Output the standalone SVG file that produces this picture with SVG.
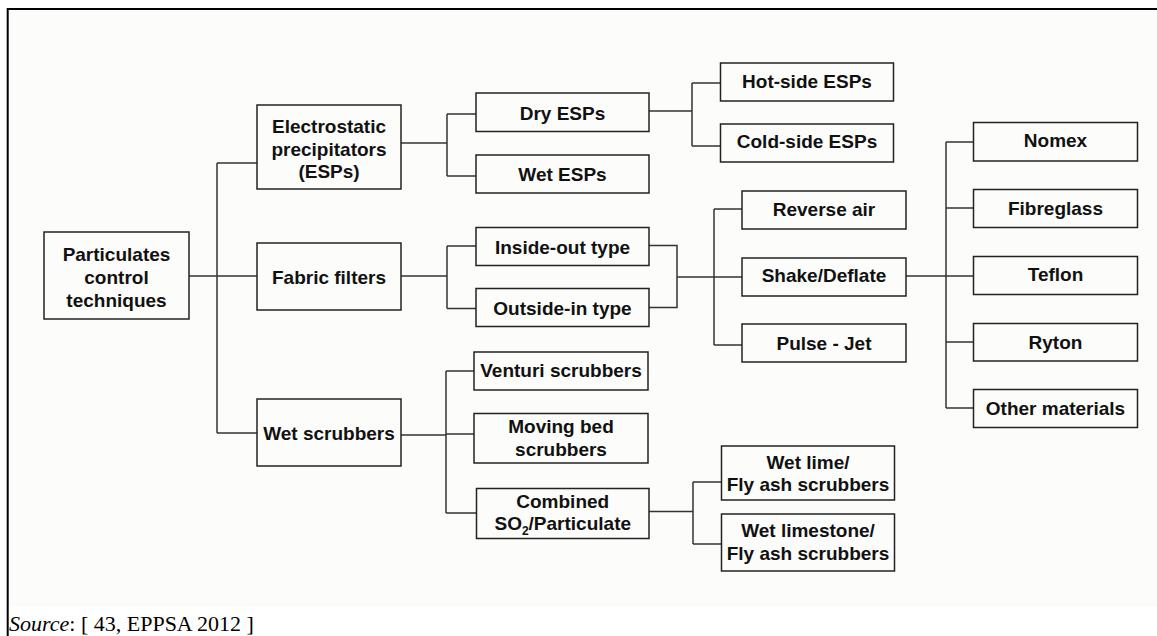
<svg xmlns="http://www.w3.org/2000/svg" width="1157" height="636" viewBox="0 0 1157 636">
<style>
.box{fill:none;stroke:#222;stroke-width:1.5}
.t{font-family:"Liberation Sans",Arial,sans-serif;font-weight:bold;font-size:19px;fill:#111;text-anchor:middle}
.c{fill:none;stroke:#333;stroke-width:1.5}
.src{font-family:"Liberation Serif","Times New Roman",serif;font-size:22px;fill:#000}
</style>
<rect x="0" y="0" width="1157" height="636" fill="#ffffff"/>
<rect x="8" y="9" width="1149" height="598" fill="#fcfcfa"/>
<g id="frame">
<line x1="7.7" y1="9" x2="1157" y2="9" stroke="#000" stroke-width="2"/>
<line x1="7.7" y1="8" x2="7.7" y2="636" stroke="#000" stroke-width="2"/>
</g>
<g id="connectors">
<path class="c" d="M189,276 H257 M217,163 V433 M217,163 H257 M217,433 H257"/>
<path class="c" d="M401,143 H447 M447,114 V176 M447,114 H476 M447,176 H476"/>
<path class="c" d="M649,111 H692 M692,83 V146 M692,83 H720.5 M692,146 H720.5"/>
<path class="c" d="M401,276 H447 M447,246 V308.5 M447,246 H476 M447,308.5 H476"/>
<path class="c" d="M649,245.5 H677 V307.5 H649 M677,277 H742 M714,209 V345 M714,209 H742 M714,345 H742"/>
<path class="c" d="M906,276 H973.5 M946,142 V408 M946,142 H973.5 M946,208 H973.5 M946,342 H973.5 M946,408 H973.5"/>
<path class="c" d="M401,435 H446 M446,371 V513 M446,371 H474 M446,434 H474 M446,513 H476.5"/>
<path class="c" d="M649,511.5 H693 M693,482 V544 M693,482 H721.5 M693,544 H721.5"/>
</g>
<g id="root"><rect class="box" x="44" y="232" width="145" height="87"/><text class="t" x="116.5" y="260.5">Particulates</text><text class="t" x="116.5" y="283.5">control</text><text class="t" x="116.5" y="306.5">techniques</text></g>
<g id="esp"><rect class="box" x="257" y="105" width="144" height="84"/><text class="t" x="329" y="133">Electrostatic</text><text class="t" x="329" y="155.5">precipitators</text><text class="t" x="329" y="178">(ESPs)</text></g>
<g id="fabric"><rect class="box" x="257" y="243" width="144" height="67"/><text class="t" x="329" y="283.5">Fabric filters</text></g>
<g id="wetscrub"><rect class="box" x="257" y="399" width="144" height="67"/><text class="t" x="329" y="440">Wet scrubbers</text></g>
<g id="dryesp"><rect class="box" x="476" y="93" width="173" height="38.5"/><text class="t" x="562.5" y="119.5">Dry ESPs</text></g>
<g id="wetesp"><rect class="box" x="476" y="155" width="173" height="38"/><text class="t" x="562.5" y="181">Wet ESPs</text></g>
<g id="insideout"><rect class="box" x="476" y="227.5" width="173" height="38"/><text class="t" x="562.5" y="253.5">Inside-out type</text></g>
<g id="outsidein"><rect class="box" x="476" y="288.5" width="173" height="38"/><text class="t" x="562.5" y="315">Outside-in type</text></g>
<g id="hotside"><rect class="box" x="720.5" y="63" width="173" height="38"/><text class="t" x="807" y="88">Hot-side ESPs</text></g>
<g id="coldside"><rect class="box" x="720.5" y="124" width="173" height="38"/><text class="t" x="807" y="147.5">Cold-side ESPs</text></g>
<g id="reverse"><rect class="box" x="742" y="191" width="164" height="38"/><text class="t" x="824" y="216">Reverse air</text></g>
<g id="shake"><rect class="box" x="742" y="258" width="164" height="38"/><text class="t" x="824" y="282">Shake/Deflate</text></g>
<g id="pulse"><rect class="box" x="742" y="324" width="164" height="38"/><text class="t" x="824" y="350">Pulse - Jet</text></g>
<g id="nomex"><rect class="box" x="973.5" y="122.5" width="164" height="38.5"/><text class="t" x="1055.5" y="147">Nomex</text></g>
<g id="fibreglass"><rect class="box" x="973.5" y="189.5" width="164" height="38"/><text class="t" x="1055.5" y="215">Fibreglass</text></g>
<g id="teflon"><rect class="box" x="973.5" y="256.5" width="164" height="38"/><text class="t" x="1055.5" y="281">Teflon</text></g>
<g id="ryton"><rect class="box" x="973.5" y="323.5" width="164" height="37.5"/><text class="t" x="1055.5" y="349">Ryton</text></g>
<g id="other"><rect class="box" x="973.5" y="389.5" width="164" height="38"/><text class="t" x="1055.5" y="415">Other materials</text></g>
<g id="venturi"><rect class="box" x="474" y="352" width="174" height="38"/><text class="t" x="561" y="377">Venturi scrubbers</text></g>
<g id="movingbed"><rect class="box" x="474" y="413.5" width="174" height="49.5"/><text class="t" x="561" y="433">Moving bed</text><text class="t" x="561" y="455.5">scrubbers</text></g>
<g id="combined"><rect class="box" x="476.5" y="488.5" width="172.5" height="50"/><text class="t" x="562.75" y="507.5">Combined</text><text class="t" x="562.75" y="530">SO<tspan font-size="12" dy="5">2</tspan><tspan dy="-5">/Particulate</tspan></text></g>
<g id="wetlime"><rect class="box" x="721.5" y="446" width="173" height="54"/><text class="t" x="808" y="468.5">Wet lime/</text><text class="t" x="808" y="491">Fly ash scrubbers</text></g>
<g id="wetlimestone"><rect class="box" x="721.5" y="514" width="173" height="57"/><text class="t" x="808" y="537">Wet limestone/</text><text class="t" x="808" y="560">Fly ash scrubbers</text></g>
<text class="src" x="9" y="631"><tspan font-style="italic">Source</tspan>: [ 43, EPPSA 2012 ]</text>
</svg>
